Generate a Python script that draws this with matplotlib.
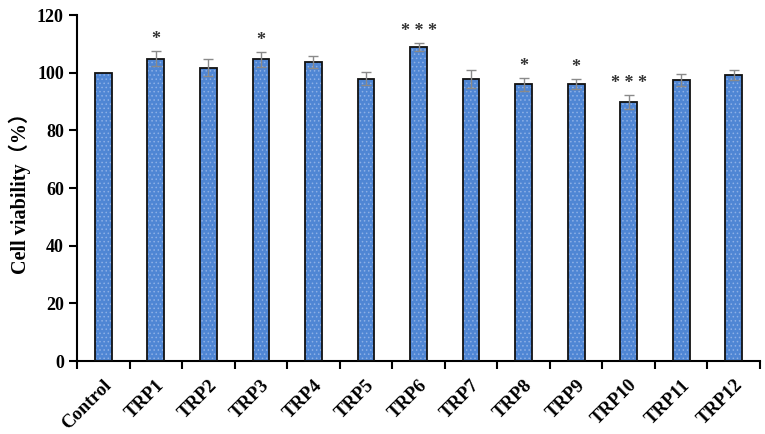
import numpy as np
import matplotlib.pyplot as plt

# data
groups = ["Control", "TRP1", "TRP2", "TRP3", "TRP4", "TRP5", "TRP6",
          "TRP7", "TRP8", "TRP9", "TRP10", "TRP11", "TRP12"]
viability = [100.0, 104.8, 101.7, 104.6, 103.7, 97.9, 109.0,
             97.9, 96.0, 96.0, 89.8, 97.5, 99.1]
errors = [0.0, 2.6, 3.0, 2.7, 2.2, 2.2, 1.4,
          3.1, 2.3, 1.7, 2.4, 2.2, 1.8]
stars = ["", "*", "", "*", "", "", "* * *", "", "*", "*", "* * *", "", ""]

plt.rcParams["hatch.linewidth"] = 0.6
serif = ["Liberation Serif", "Noto Sans CJK SC"]

fig = plt.figure(figsize=(7.65, 4.34), dpi=100)
ax = fig.add_axes([0.1007, 0.168, 0.8928, 0.7974])

x = np.arange(len(groups))
# fill with a light stipple, then a black outline on top
ax.bar(x, viability, width=0.32, color="#4f86d4", edgecolor="#8db0e6",
       hatch="....", linewidth=0, zorder=2)
ax.bar(x, viability, width=0.32, fill=False, edgecolor="#111111",
       linewidth=1.3, zorder=3)

err_x = [i for i, e in enumerate(errors) if e > 0]
ax.errorbar(err_x, [viability[i] for i in err_x], yerr=[errors[i] for i in err_x],
            fmt="none", ecolor="#8a8a8a", elinewidth=1.0, capsize=3.5,
            capthick=1.0, zorder=4)

for i, s in enumerate(stars):
    if s:
        ax.text(i, viability[i] + errors[i] + 1.0, s, ha="center", va="bottom",
                fontsize=13, fontweight="bold", family=serif, color="#333333")

ax.set_xlim(-0.5, len(groups) - 0.5)
ax.set_ylim(0, 120)
ax.set_yticks(np.arange(0, 121, 20))
ax.set_xticks(np.arange(-0.5, len(groups), 1.0))
ax.set_xticklabels([])
ax.set_xticks(x, minor=True)
ax.set_xticklabels(groups, minor=True, rotation=45, ha="right",
                   rotation_mode="anchor", fontsize=13.5, fontweight="bold",
                   family=serif)
ax.tick_params(axis="x", which="minor", length=0, pad=11)
ax.tick_params(axis="x", which="major", length=6, width=1.5, direction="out")
ax.tick_params(axis="y", length=6, width=1.5, direction="out")
for lab in ax.get_yticklabels():
    lab.set_fontsize(13)
    lab.set_fontweight("bold")
    lab.set_family(serif)

ax.spines["top"].set_visible(False)
ax.spines["right"].set_visible(False)
ax.spines["left"].set_linewidth(1.5)
ax.spines["bottom"].set_linewidth(1.5)

ax.set_ylabel("Cell viability（%）", fontsize=14.5, fontweight="bold",
              family=serif, labelpad=4)

fig.savefig("out.png", dpi=100)
